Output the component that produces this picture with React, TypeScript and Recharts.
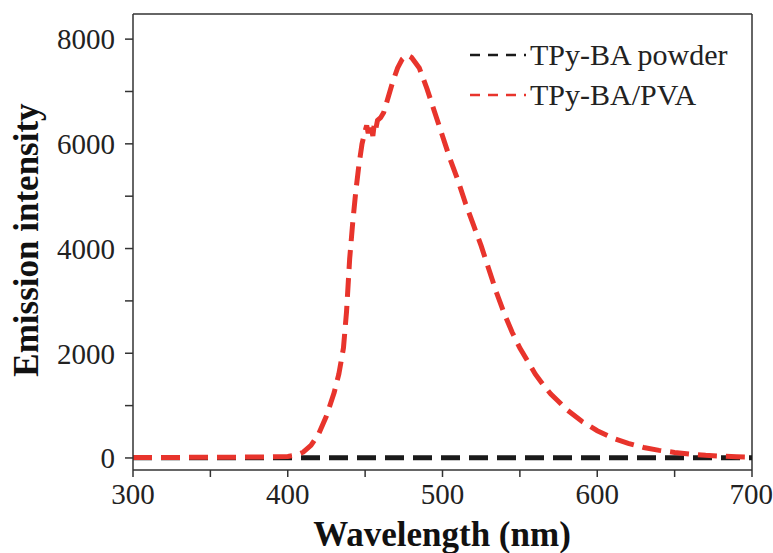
import { LineChart, Line, XAxis, YAxis, ReferenceLine } from 'recharts';

const wavelengths = [
  300, 320, 340, 360, 380, 390, 400, 405, 410, 415, 420, 425, 430, 433, 436, 438, 440, 442, 444, 446, 448,
  450, 451, 452, 453, 454, 455, 456, 457, 458, 460, 462, 465, 468, 471, 474, 477, 480, 485, 490, 495, 500,
  505, 510, 515, 520, 525, 530, 535, 540, 545, 550, 555, 560, 565, 570, 575, 580, 590, 600, 610, 620, 630,
  640, 650, 660, 670, 680, 690, 700,
];
const pvaValues = [
  10, 10, 12, 14, 18, 22, 30, 50, 110, 240, 460, 800, 1250, 1600, 2100, 2800, 3800, 4500, 5100, 5600, 6000,
  6250, 6350, 6200, 6400, 6300, 6150, 6400, 6300, 6450, 6500, 6600, 6900, 7200, 7450, 7620, 7700, 7650, 7450, 7050, 6600, 6150,
  5700, 5300, 4850, 4450, 4050, 3600, 3150, 2750, 2400, 2100, 1850, 1600, 1400, 1220, 1080, 930, 700, 520, 380, 280, 200,
  145, 105, 75, 50, 35, 22, 15,
];
const powderValues = wavelengths.map(() => 5);

const yTicks = [0, 1000, 2000, 3000, 4000, 5000, 6000, 7000, 8000];
const xTicks = [300, 350, 400, 450, 500, 550, 600, 650, 700];
const yDomain = [-230, 8480];
const xDomain = [300, 700];

const seriesInfo = [
  { key: 'powder', label: 'TPy-BA powder', color: '#1a1a1a' },
  { key: 'pva', label: 'TPy-BA/PVA', color: '#e8342c' },
];

const data = wavelengths.map((w, i) => ({ w, powder: powderValues[i], pva: pvaValues[i] }));

const FONT = '"Liberation Serif", "Times New Roman", serif';
const AXIS = '#333';

function LegendBox() {
  return (
    <div style={{ position: 'absolute', top: 35, left: 468, fontFamily: FONT, fontSize: 30, color: '#222' }}>
      {seriesInfo.map((s) => (
        <div key={s.key} style={{ display: 'flex', alignItems: 'center', height: 40 }}>
          <svg width={58} height={10} style={{ marginRight: 4 }}>
            <line x1={2} y1={5} x2={58} y2={5} stroke={s.color} strokeWidth={2.5} strokeDasharray="10 8" />
          </svg>
          <span>{s.label}</span>
        </div>
      ))}
    </div>
  );
}

export default function App() {
  return (
    <div style={{ position: 'absolute', left: 0, top: 0, width: 773, height: 553, background: '#fff' }}>
      <LineChart width={773} height={553} data={data} margin={{ top: 14, right: 21, left: 33, bottom: 43 }}>
        <XAxis
          dataKey="w"
          type="number"
          domain={xDomain}
          ticks={xTicks}
          tickFormatter={(v: number) => (v % 100 === 0 ? String(v) : '')}
          tickSize={7}
          tickMargin={6}
          height={40}
          stroke={AXIS}
          strokeWidth={1.5}
          tick={{ fontFamily: FONT, fontSize: 29, fill: '#222' }}
          label={{
            content: () => (
              <text x={442} y={546} textAnchor="middle" fontFamily={FONT} fontSize={35} fontWeight="bold" fill="#111">
                Wavelength (nm)
              </text>
            ),
          }}
        />
        <YAxis
          type="number"
          domain={yDomain}
          allowDataOverflow
          ticks={yTicks}
          tickFormatter={(v: number) => (v % 2000 === 0 ? String(v) : '')}
          tickSize={8}
          tickMargin={10}
          width={100}
          stroke={AXIS}
          strokeWidth={1.5}
          tick={{ fontFamily: FONT, fontSize: 29, fill: '#222' }}
          label={{
            content: () => (
              <text x={38} y={240} transform="rotate(-90 38 240)" textAnchor="middle" fontFamily={FONT} fontSize={35} fontWeight="bold" fill="#111">
                Emission intensity
              </text>
            ),
          }}
        />
        <ReferenceLine y={yDomain[1]} stroke={AXIS} strokeWidth={1.5} />
        <ReferenceLine x={xDomain[1]} stroke={AXIS} strokeWidth={1.5} />
        <Line dataKey="powder" stroke={seriesInfo[0].color} strokeWidth={5} strokeDasharray="19 9" dot={false} isAnimationActive={false} />
        <Line dataKey="pva" stroke={seriesInfo[1].color} strokeWidth={5} strokeDasharray="19 9" dot={false} isAnimationActive={false} />
      </LineChart>
      <LegendBox />
    </div>
  );
}
